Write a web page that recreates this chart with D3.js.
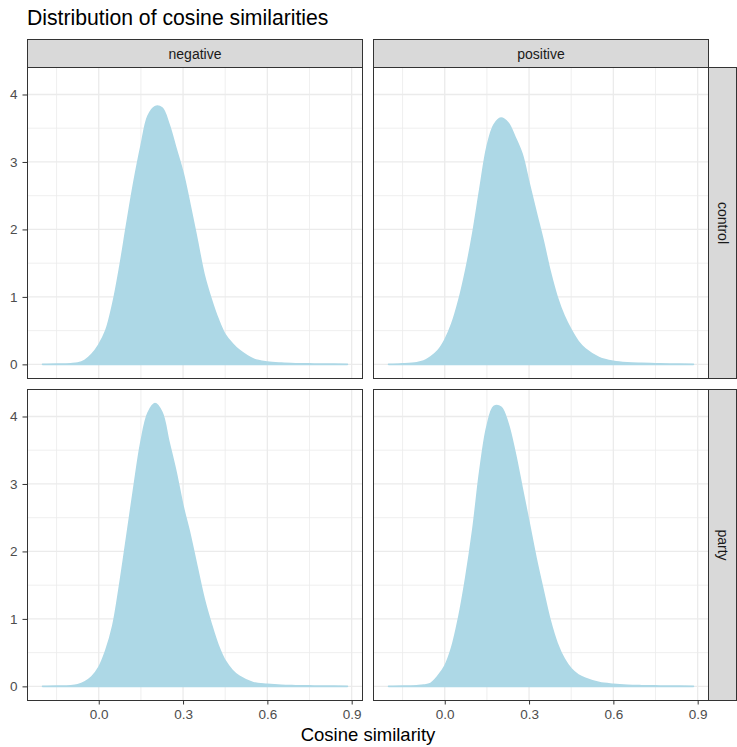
<!DOCTYPE html>
<html>
<head>
<meta charset="utf-8">
<script src="https://cdn.jsdelivr.net/npm/d3@7"></script>
<style>
  html, body { margin: 0; padding: 0; background: #ffffff; }
  svg { display: block; font-family: "Liberation Sans", Arial, sans-serif; }
</style>
</head>
<body>
<svg id="chart" width="737" height="747"></svg>
<script>
// ---- data ----
const colFacets = ["negative", "positive"];
const rowFacets = ["control", "party"];
const xGrid = [-0.2, -0.15, -0.1, -0.075, -0.05, -0.025, 0, 0.025, 0.05, 0.075, 0.1, 0.125, 0.15, 0.175, 0.2, 0.225, 0.25, 0.275, 0.3, 0.325, 0.35, 0.375, 0.4, 0.425, 0.45, 0.475, 0.5, 0.55, 0.6, 0.65, 0.7, 0.75, 0.8, 0.885];
const densControlNegative = [0, 0.003, 0.01, 0.02, 0.06, 0.15, 0.29, 0.5, 0.9, 1.45, 2.09, 2.7, 3.23, 3.68, 3.82, 3.8, 3.56, 3.2, 2.84, 2.36, 1.85, 1.33, 0.97, 0.67, 0.44, 0.31, 0.21, 0.08, 0.035, 0.018, 0.01, 0.007, 0.005, 0.002];
const densControlPositive = [0, 0.008, 0.025, 0.05, 0.11, 0.2, 0.36, 0.6, 0.95, 1.4, 1.95, 2.6, 3.22, 3.55, 3.65, 3.58, 3.37, 3.12, 2.69, 2.26, 1.84, 1.38, 1.0, 0.72, 0.51, 0.34, 0.23, 0.1, 0.045, 0.022, 0.014, 0.01, 0.006, 0.002];
const densPartyNegative = [0, 0.003, 0.01, 0.025, 0.065, 0.14, 0.28, 0.53, 0.9, 1.52, 2.23, 2.95, 3.62, 4.05, 4.19, 4.06, 3.62, 3.18, 2.67, 2.25, 1.77, 1.3, 0.93, 0.61, 0.38, 0.24, 0.15, 0.055, 0.03, 0.015, 0.01, 0.007, 0.005, 0.002];
const densPartyPositive = [0, 0.003, 0.01, 0.018, 0.045, 0.15, 0.3, 0.58, 1.03, 1.62, 2.33, 3.2, 3.85, 4.15, 4.14, 3.9, 3.47, 2.95, 2.43, 1.9, 1.43, 0.98, 0.64, 0.41, 0.26, 0.17, 0.12, 0.055, 0.03, 0.016, 0.01, 0.007, 0.005, 0.002];
const xTicks = [0, 0.3, 0.6, 0.9];
const xTickLabels = ["0.0", "0.3", "0.6", "0.9"];
const xMinor = [-0.15, 0.15, 0.45, 0.75];
const yTicks = [0, 1, 2, 3, 4];
const yMinor = [0.5, 1.5, 2.5, 3.5];
const titleText = "Distribution of cosine similarities";
const xTitle = "Cosine similarity";

const panels = [
  { row: 0, col: 0, dens: densControlNegative },
  { row: 0, col: 1, dens: densControlPositive },
  { row: 1, col: 0, dens: densPartyNegative },
  { row: 1, col: 1, dens: densPartyPositive }
];

// ---- layout ----
const svg = d3.select("#chart");
const colX = [[27.5, 362.5], [373.5, 708.5]];
const rowY = [[67.5, 378.5], [389.5, 700.5]];
const stripH = 28;
const stripW = 28;
const fill = "#ADD8E6";
const dark = "#333333";

const xDomain = [-0.2535, 0.9385];
const yDomain = [-0.2095, 4.4];

svg.append("text")
  .attr("x", 27).attr("y", 25)
  .attr("font-size", 21.2).attr("fill", "#000")
  .text(titleText);

const area = d3.area().curve(d3.curveCatmullRom.alpha(0.5));

panels.forEach((p, i) => {
  const [x0, x1] = colX[p.col];
  const [y0, y1] = rowY[p.row];
  const x = d3.scaleLinear().domain(xDomain).range([x0, x1]);
  const y = d3.scaleLinear().domain(yDomain).range([y1, y0]);
  const g = svg.append("g");

  g.append("rect").attr("x", x0).attr("y", y0).attr("width", x1 - x0).attr("height", y1 - y0).attr("fill", "#fff");

  // grid minor
  g.selectAll(".xm").data(xMinor).enter().append("line")
    .attr("x1", d => x(d)).attr("x2", d => x(d)).attr("y1", y0).attr("y2", y1)
    .attr("stroke", "#ebebeb").attr("stroke-width", 0.8);
  g.selectAll(".ym").data(yMinor).enter().append("line")
    .attr("y1", d => y(d)).attr("y2", d => y(d)).attr("x1", x0).attr("x2", x1)
    .attr("stroke", "#ebebeb").attr("stroke-width", 0.8);
  // grid major
  g.selectAll(".xM").data(xTicks).enter().append("line")
    .attr("x1", d => x(d)).attr("x2", d => x(d)).attr("y1", y0).attr("y2", y1)
    .attr("stroke", "#ebebeb").attr("stroke-width", 1.3);
  g.selectAll(".yM").data(yTicks).enter().append("line")
    .attr("y1", d => y(d)).attr("y2", d => y(d)).attr("x1", x0).attr("x2", x1)
    .attr("stroke", "#ebebeb").attr("stroke-width", 1.3);

  // density area
  const clipId = "clip" + i;
  svg.append("clipPath").attr("id", clipId).append("rect")
    .attr("x", x0).attr("y", y0).attr("width", x1 - x0).attr("height", y1 - y0);
  const pts = xGrid.map((v, k) => [v, p.dens[k]]);
  area.x(d => x(d[0])).y0(y(0)).y1(d => y(d[1]));
  g.append("path").datum(pts).attr("d", area).attr("fill", fill)
    .attr("stroke", fill).attr("stroke-width", 1.6).attr("stroke-linejoin", "round")
    .attr("clip-path", `url(#${clipId})`);

  // border
  g.append("rect").attr("x", x0).attr("y", y0).attr("width", x1 - x0).attr("height", y1 - y0)
    .attr("fill", "none").attr("stroke", dark).attr("stroke-width", 1);

  // top strip
  if (p.row === 0) {
    svg.append("rect").attr("x", x0).attr("y", y0 - stripH).attr("width", x1 - x0).attr("height", stripH)
      .attr("fill", "#d9d9d9").attr("stroke", dark).attr("stroke-width", 1);
    svg.append("text").attr("x", (x0 + x1) / 2).attr("y", y0 - stripH / 2)
      .attr("text-anchor", "middle").attr("dominant-baseline", "central")
      .attr("font-size", 14).attr("fill", "#1a1a1a").text(colFacets[p.col]);
  }
  // right strip
  if (p.col === 1) {
    svg.append("rect").attr("x", x1).attr("y", y0).attr("width", stripW).attr("height", y1 - y0)
      .attr("fill", "#d9d9d9").attr("stroke", dark).attr("stroke-width", 1);
    svg.append("text")
      .attr("transform", `translate(${x1 + stripW / 2},${(y0 + y1) / 2}) rotate(90)`)
      .attr("text-anchor", "middle").attr("dominant-baseline", "central")
      .attr("font-size", 14).attr("fill", "#1a1a1a").text(rowFacets[p.row]);
  }
  // y axis
  if (p.col === 0) {
    const ax = svg.append("g").attr("transform", `translate(${x0},0)`)
      .call(d3.axisLeft(y).tickValues(yTicks).tickSize(5).tickPadding(5).tickFormat(d3.format("d")));
    ax.select(".domain").remove();
    ax.selectAll("line").attr("stroke", dark);
    ax.selectAll("text").attr("font-size", 13.5).attr("fill", "#4d4d4d")
      .attr("font-family", "'Liberation Sans', Arial, sans-serif");
  }
  // x axis
  if (p.row === 1) {
    const ax = svg.append("g").attr("transform", `translate(0,${y1})`)
      .call(d3.axisBottom(x).tickValues(xTicks).tickSize(4).tickPadding(5).tickFormat((d, k) => xTickLabels[k]));
    ax.select(".domain").remove();
    ax.selectAll("line").attr("stroke", dark);
    ax.selectAll("text").attr("font-size", 13.5).attr("fill", "#4d4d4d")
      .attr("font-family", "'Liberation Sans', Arial, sans-serif");
  }
});

svg.append("text")
  .attr("x", (colX[0][0] + colX[1][1]) / 2).attr("y", 741)
  .attr("text-anchor", "middle").attr("font-size", 18.5).attr("fill", "#000")
  .text(xTitle);
</script>
</body>
</html>
